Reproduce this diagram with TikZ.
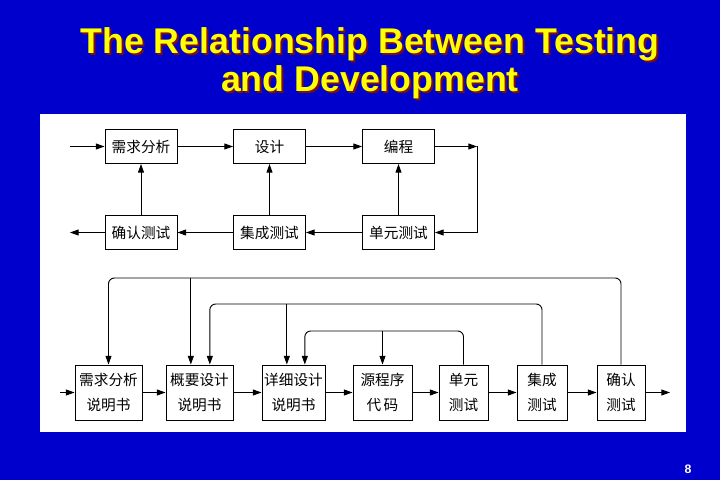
\documentclass[tikz,border=0pt]{standalone}
\usepackage{fontspec}
\setmainfont{Liberation Sans}
\newfontfamily\cjk{Noto Sans CJK SC}
\usetikzlibrary{arrows.meta}
\usepackage{xcolor}
\definecolor{bgc}{HTML}{0000CC}
\definecolor{titlec}{HTML}{FFFF00}
\definecolor{shadec}{HTML}{7A1010}

\begin{document}
\begin{tikzpicture}[x=0.03cm,y=-0.03cm,
  box/.style={draw, line width=0.8pt, inner sep=0pt,
    minimum width=2.16cm, minimum height=1.02cm,
    font=\cjk\fontsize{12.5}{14}\selectfont},
  doc/.style={draw, line width=0.8pt, inner sep=0pt, minimum height=1.65cm,
    align=center, font=\cjk\fontsize{12.5}{21}\selectfont},
  flow/.style={line width=0.8pt, -{Triangle[length=2.6mm,width=1.8mm]}},
  fb/.style={flow, rounded corners=5pt},
  title/.style={align=center, inner sep=0pt,
    font=\bfseries\fontsize{30.5}{32.3}\selectfont}]
  \useasboundingbox (0,0) rectangle (720,480);
  \fill[bgc] (0,0) rectangle (720,480);
  \fill[white] (40,114) rectangle (686,432);

  % ==========================================================
  %                     TITLE
  % ==========================================================
  \node[title, text=shadec] (ttlShade) at (372,65)
    {The Relationship Between Testing\\and Development};
  \node[title, text=titlec] (ttl) at (370,63)
    {The Relationship Between Testing\\and Development};
  \node[text=white, font=\bfseries\fontsize{10.5}{12}\selectfont] (pg) at (688,469) {8};

  % ==========================================================
  %                     DEVELOPMENT / TEST LOOP
  % ==========================================================
  \node[box] (req)   at (141,146.5) {需求分析};
  \node[box] (des)   at (269.5,146.5) {设计};
  \node[box] (code)  at (398.5,146.5) {编程};
  \node[box] (acc)   at (141,232.5) {确认测试};
  \node[box] (integ) at (269.5,232.5) {集成测试};
  \node[box] (unit)  at (398.5,232.5) {单元测试};

  \coordinate (inA)   at (70,146.5);
  \coordinate (outA)  at (70,232.5);
  \coordinate (turnA) at (477,146.5);

  \draw[flow] (inA) -- (req);
  \draw[flow] (req) -- (des);
  \draw[flow] (des) -- (code);
  \draw[flow] (code) -- (turnA);
  \draw[flow] (turnA) |- (unit);
  \draw[flow] (unit) -- (integ);
  \draw[flow] (integ) -- (acc);
  \draw[flow] (acc) -- (outA);
  \draw[flow] (unit) -- (code);
  \draw[flow] (integ) -- (des);
  \draw[flow] (acc) -- (req);

  % ==========================================================
  %                     DOCUMENTS AND TESTS
  % ==========================================================
  \node[doc, minimum width=2.01cm] (sreq)   at (108.5,392.5) {需求分析\\说明书};
  \node[doc, minimum width=2.01cm] (sdes)   at (199.5,392.5) {概要设计\\说明书};
  \node[doc, minimum width=1.89cm] (sdet)   at (293.5,392.5) {详细设计\\说明书};
  \node[doc, minimum width=1.77cm] (src)    at (382.5,392.5) {源程序\\代\,码};
  \node[doc, minimum width=1.47cm] (tunit)  at (463.5,392.5) {单元\\测试};
  \node[doc, minimum width=1.50cm] (tinteg) at (542,392.5) {集成\\测试};
  \node[doc, minimum width=1.44cm] (tacc)   at (621,392.5) {确认\\测试};

  \coordinate (inB)  at (60,392.5);
  \coordinate (outB) at (670,392.5);

  \draw[flow] (inB) -- (sreq);
  \draw[flow] (sreq) -- (sdes);
  \draw[flow] (sdes) -- (sdet);
  \draw[flow] (sdet) -- (src);
  \draw[flow] (src) -- (tunit);
  \draw[flow] (tunit) -- (tinteg);
  \draw[flow] (tinteg) -- (tacc);
  \draw[flow] (tacc) -- (outB);

  % feedback from each test back to its documents
  \coordinate (sdesL) at ([xshift=-0.26cm]sdes.north);
  \coordinate (sdesR) at ([xshift=0.31cm]sdes.north);
  \coordinate (sdetL) at ([xshift=-0.2cm]sdet.north);
  \coordinate (sdetR) at ([xshift=0.34cm]sdet.north);

  \draw[fb] (tacc.north) -- (tacc.north |- 0,278) -| (sreq.north);
  \draw[flow] (sdesL |- 0,278) -- (sdesL);
  \draw[fb] (tinteg.north) -- (tinteg.north |- 0,304) -| (sdesR);
  \draw[flow] (sdetL |- 0,304) -- (sdetL);
  \draw[fb] (tunit.north) -- (tunit.north |- 0,331) -| (sdetR);
  \draw[flow] (src.north |- 0,331) -- (src.north);
\end{tikzpicture}
\end{document}
